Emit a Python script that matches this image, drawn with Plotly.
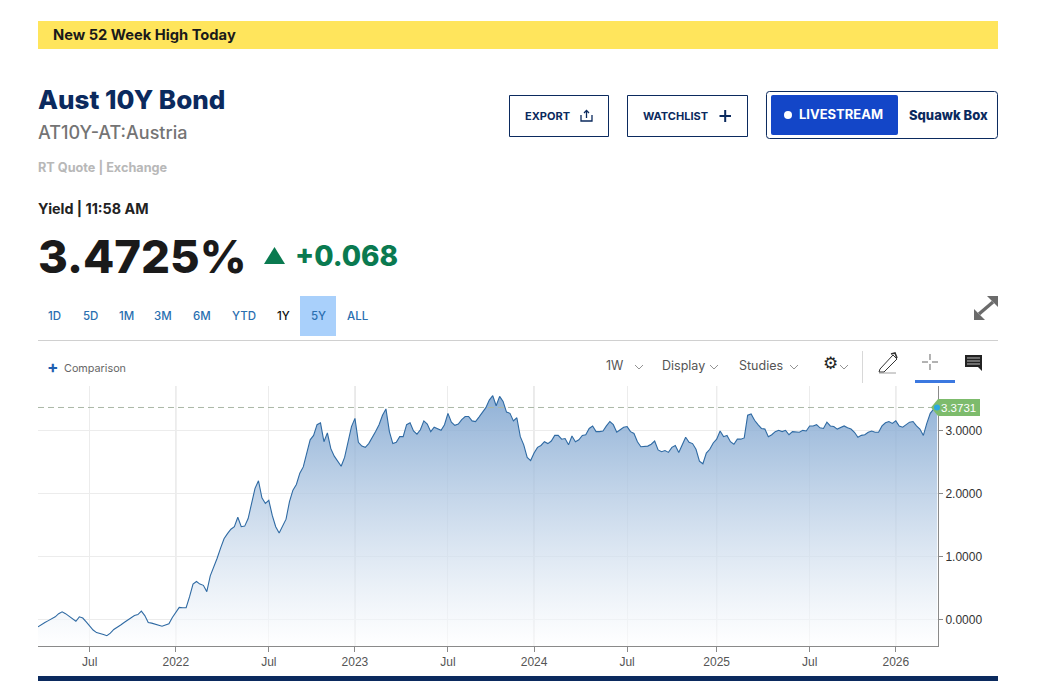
import pandas as pd
import plotly.graph_objects as go

W = 1053
H = 693

# weekly yield
yield_values = [
    -0.11, -0.07, -0.04, -0.01, 0.015, 0.05, 0.10, 0.13, 0.10, 0.06, 0.015, -0.02, 0.05, 0.03, -0.03, -0.09, -0.16,
    -0.20, -0.21, -0.23, -0.25, -0.21, -0.15, -0.12, -0.08, -0.04, 0.00, 0.04, 0.07, 0.085, 0.14, 0.07, -0.04, -0.05,
    -0.07, -0.09, -0.10, -0.08, -0.06, 0.04, 0.13, 0.20, 0.195, 0.195, 0.37, 0.57, 0.61, 0.57, 0.55, 0.45, 0.70, 0.83,
    0.98, 1.14, 1.29, 1.37, 1.44, 1.48, 1.63, 1.48, 1.49, 1.61, 1.88, 2.09, 2.21, 1.94, 1.85, 1.90, 1.66, 1.48, 1.38,
    1.50, 1.60, 1.88, 2.06, 2.15, 2.33, 2.43, 2.67, 2.86, 2.93, 3.10, 3.13, 2.83, 2.97, 2.72, 2.60, 2.51, 2.44, 2.58,
    2.83, 3.07, 3.20, 2.82, 2.76, 2.74, 2.80, 2.89, 2.99, 3.10, 3.25, 3.35, 2.99, 2.80, 2.82, 2.91, 2.91, 3.10, 3.13,
    3.00, 2.95, 3.02, 3.16, 3.11, 2.99, 3.06, 3.03, 3.01, 3.10, 3.28, 3.14, 3.09, 3.11, 3.18, 3.23, 3.23, 3.16, 3.15,
    3.22, 3.30, 3.37, 3.49, 3.56, 3.40, 3.55, 3.47, 3.30, 3.28, 3.16, 3.21, 2.91, 2.78, 2.58, 2.53, 2.65, 2.74, 2.77,
    2.83, 2.80, 2.84, 2.93, 2.93, 2.87, 2.88, 2.78, 2.92, 2.83, 2.86, 2.93, 2.94, 3.04, 3.08, 2.99, 2.99, 3.00, 3.08,
    3.15, 3.10, 2.98, 3.02, 3.06, 3.07, 2.99, 2.96, 2.83, 2.75, 2.76, 2.76, 2.79, 2.84, 2.70, 2.67, 2.69, 2.66, 2.74,
    2.77, 2.66, 2.79, 2.90, 2.82, 2.80, 2.71, 2.52, 2.48, 2.65, 2.71, 2.81, 2.87, 3.00, 2.91, 2.93, 2.83, 2.79, 2.87,
    2.87, 2.89, 3.25, 3.27, 3.17, 3.10, 3.04, 3.03, 2.91, 2.94, 2.99, 3.01, 2.99, 3.01, 2.94, 2.99, 2.99, 2.98, 3.01,
    3.00, 3.08, 3.08, 3.10, 3.05, 3.04, 3.14, 3.08, 3.07, 3.03, 3.06, 3.08, 3.05, 3.03, 2.98, 2.90, 2.93, 2.94, 2.98,
    3.00, 2.98, 2.98, 3.08, 3.13, 3.15, 3.12, 3.16, 3.08, 3.06, 3.10, 3.14, 3.15, 3.08, 3.03, 2.93, 3.12, 3.28, 3.35,
    3.3731,
]
week_dates = pd.date_range("2021-03-26", periods=len(yield_values), freq="7D").strftime("%Y-%m-%d").tolist()

x_tick_weeks = [15, 40, 67, 92, 119, 144, 171, 197, 224, 249]
x_tick_labels = ["Jul", "2022", "Jul", "2023", "Jul", "2024", "Jul", "2025", "Jul", "2026"]
year_weeks = [40, 92, 144, 197, 249]
y_ticks = [0, 1, 2, 3]
y_tick_labels = ["0.0000", "1.0000", "2.0000", "3.0000"]
last_value = 3.3731
y_bottom = -0.413
y_top = 3.714

range_labels = ["1D", "5D", "1M", "3M", "6M", "YTD", "1Y", "5Y", "ALL"]
range_centers = [54, 90, 126, 163, 202, 244, 283, 318, 357]

NAVY = "#0b2a5e"
SANS = "Inter"
ARIAL = "Liberation Sans"


def px(x):
    return x / W


def py(y):
    return 1 - y / H


def pts(*coords):
    # page pixels -> paper path
    out = []
    for i, (x, y) in enumerate(coords):
        out.append(("M" if i == 0 else "L") + f"{px(x):.5f},{py(y):.5f}")
    return " ".join(out)


def rect(x0, y0, x1, y1, fill=None, line=None, lw=1):
    fig.add_shape(type="rect", xref="paper", yref="paper", x0=px(x0), x1=px(x1), y0=py(y0), y1=py(y1),
                  fillcolor=fill, line=dict(color=line, width=lw if line else 0))


def path(p, color=None, lw=1, fill=None):
    fig.add_shape(type="path", xref="paper", yref="paper", path=p, fillcolor=fill,
                  line=dict(color=color, width=lw if color else 0))


def round_rect(x0, y0, x1, y1, r, fill=None, line=None):
    p = (f"M{px(x0 + r):.5f},{py(y0):.5f} L{px(x1 - r):.5f},{py(y0):.5f} "
         f"Q{px(x1):.5f},{py(y0):.5f} {px(x1):.5f},{py(y0 + r):.5f} L{px(x1):.5f},{py(y1 - r):.5f} "
         f"Q{px(x1):.5f},{py(y1):.5f} {px(x1 - r):.5f},{py(y1):.5f} L{px(x0 + r):.5f},{py(y1):.5f} "
         f"Q{px(x0):.5f},{py(y1):.5f} {px(x0):.5f},{py(y1 - r):.5f} L{px(x0):.5f},{py(y0 + r):.5f} "
         f"Q{px(x0):.5f},{py(y0):.5f} {px(x0 + r):.5f},{py(y0):.5f} Z")
    path(p, color=line, fill=fill)


def txt(x, y, s, size, color, weight=400, family=SANS, anchor="left"):
    fig.add_annotation(xref="paper", yref="paper", x=px(x), y=py(y), text=s, showarrow=False,
                       xanchor=anchor, yanchor="middle", borderpad=0, borderwidth=0,
                       font=dict(size=size, color=color, family=family, weight=weight))


def chevron(x, y):
    path(pts((x - 4, y - 2), (x, y + 2), (x + 4, y - 2)), color="#777777", lw=0.8)


fig = go.Figure()

# invisible floor so the fill runs down to the axis
fig.add_trace(go.Scatter(x=week_dates, y=[y_bottom] * len(week_dates), mode="lines",
                         line=dict(width=0), hoverinfo="skip", showlegend=False))
fig.add_trace(go.Scatter(x=week_dates, y=yield_values, mode="lines", fill="tonexty",
                         fillgradient=dict(type="vertical",
                                           colorscale=[[0, "rgba(255,255,255,0.6)"], [1, "rgba(124,163,207,0.85)"]]),
                         line=dict(color="#2f6aa3", width=1.1), showlegend=False))

fig.update_layout(
    width=W, height=H, margin=dict(l=0, r=0, t=0, b=0), paper_bgcolor="white", plot_bgcolor="white",
    showlegend=False,
    xaxis=dict(type="category", domain=[px(38), px(938)], range=[0, len(yield_values) - 0.75],
               tickmode="array", tickvals=x_tick_weeks, ticktext=x_tick_labels,
               showgrid=True, gridcolor="#ececec", gridwidth=1, showline=True, linecolor="#8a8a8a", linewidth=1,
               ticks="outside", ticklen=5, tickcolor="#8a8a8a", zeroline=False,
               tickfont=dict(family=ARIAL, size=12, color="#555555")),
    yaxis=dict(side="right", domain=[py(646), py(386)], range=[y_bottom, y_top],
               tickmode="array", tickvals=y_ticks, ticktext=y_tick_labels,
               showgrid=True, gridcolor="#ececec", gridwidth=1, showline=True, linecolor="#8a8a8a", linewidth=1,
               ticks="outside", ticklen=4, tickcolor="#8a8a8a", zeroline=False,
               tickfont=dict(family=ARIAL, size=12, color="#333333")),
)

# year gridlines are darker than the July ones
for wk in year_weeks:
    fig.add_shape(type="line", xref="x", yref="paper", x0=wk, x1=wk, y0=py(646), y1=py(386),
                  line=dict(color="#cccccc", width=1), layer="below")
fig.add_shape(type="line", xref="x", yref="y", x0=0, x1=len(yield_values) - 1, y0=last_value, y1=last_value,
              line=dict(color="#aab8a6", width=1, dash="6px,4px"))

# price tag
path(pts((931, 407.5), (938, 399), (980, 399), (980, 416), (938, 416), (931, 407.5)) + " Z", fill="#7dbb6c")
fig.add_shape(type="circle", xref="paper", yref="paper", x0=px(934), x1=px(940), y0=py(410.5), y1=py(404.5),
              fillcolor="#2aa9e0", line=dict(width=0))
txt(941, 407.5, "3.3731", 11.5, "white", family=ARIAL)

# header
rect(38, 21, 998, 49, fill="#ffe55c")
txt(53, 35, "New 52 Week High Today", 14.7, "#1a1a1a", 700)
txt(38, 100, "Aust 10Y Bond", 26, "#0b2a5e", 800)
txt(38, 132, "AT10Y-AT:Austria", 18, "#747474", 500)
txt(38, 167, "RT Quote | Exchange", 12.7, "#b8b8b8", 700)
txt(38, 209, "Yield | 11:58 AM", 14.3, "#222222", 700)
txt(38, 256, "3.4725%", 45.5, "#1a1a1a", 800)
path(pts((264, 264), (274.5, 247), (285, 264)) + " Z", fill="#0a7a50")
txt(295, 256, "+0.068", 28, "#0a7a50", 800)

# buttons
rect(509.5, 95.5, 608.5, 136.5, line=NAVY)
txt(525, 116, "EXPORT", 11, NAVY, 700)
path(pts((581, 115), (581, 121), (592, 121), (592, 115)), color=NAVY, lw=1.3)
path(pts((586.5, 118), (586.5, 111)), color=NAVY, lw=1.3)
path(pts((584, 113), (586.5, 110.5), (589, 113)), color=NAVY, lw=1.3)
rect(627.5, 95.5, 747.5, 136.5, line=NAVY)
txt(643, 116, "WATCHLIST", 11, NAVY, 700)
path(pts((719.5, 116), (731, 116)), color=NAVY, lw=2)
path(pts((725.2, 110), (725.2, 122)), color=NAVY, lw=2)
round_rect(766.5, 91.5, 997.5, 138.5, 3, line=NAVY)
round_rect(771, 95, 898, 135, 2, fill="#1346c8")
fig.add_shape(type="circle", xref="paper", yref="paper", x0=px(784), x1=px(792), y0=py(119), y1=py(111),
              fillcolor="white", line=dict(width=0))
txt(799, 114, "LIVESTREAM", 13, "white", 700)
txt(909, 115, "Squawk Box", 13, NAVY, 800)

# range selector
rect(300, 296, 336, 336, fill="#a9d0fb")
for lab, cx in zip(range_labels, range_centers):
    txt(cx, 316, lab, 11.5, "#111111" if lab == "1Y" else "#2a6fb0", 500, anchor="center")

# expand arrows
path(pts((979, 314), (993, 302)), color="#6b6b6b", lw=3.4)
path(pts((974, 320), (974, 309), (985, 320)) + " Z", fill="#6b6b6b")
path(pts((998, 296), (998, 307), (987, 296)) + " Z", fill="#6b6b6b")

rect(38, 340, 998, 341, fill="#d0d0d0")

# chart toolbar
txt(53, 367, "+", 17, "#1f5fb0", 700, anchor="center")
txt(64, 368, "Comparison", 10.8, "#666666")
txt(606, 365, "1W", 12.5, "#555555")
chevron(639, 367)
txt(662, 365, "Display", 12.5, "#555555")
chevron(714, 367)
txt(739, 365, "Studies", 12.5, "#555555")
chevron(794, 367)
txt(830, 363, "⚙", 17, "#222222", family="DejaVu Sans", anchor="center")
chevron(844, 367)
rect(862, 351, 863, 383, fill="#d8d8d8")
path(pts((880, 369), (893, 355), (897, 359), (884, 372), (879, 372), (880, 369)), color="#333333", lw=1)
path(pts((891, 354), (895, 353), (897, 358)), color="#333333", lw=1.6)
path(pts((879, 373), (896, 373)), color="#888888", lw=0.8)
path(pts((922, 362), (928, 362)), color="#666666", lw=1)
path(pts((932, 362), (938, 362)), color="#666666", lw=1)
path(pts((930, 354), (930, 360)), color="#666666", lw=1)
path(pts((930, 364), (930, 370)), color="#666666", lw=1)
rect(915, 380, 955, 383, fill="#3b78e0")
path(pts((965, 355), (982, 355), (982, 371), (978, 367), (965, 367)) + " Z", fill="#222222")
for ly in (358, 361, 364):
    path(pts((967, ly), (980, ly)), color="#ffffff", lw=0.7)

rect(38, 676, 998, 681, fill="#0b2a5e")

fig.write_html("out.html", config={"displayModeBar": False},
               post_script="document.body.style.margin='0';")
